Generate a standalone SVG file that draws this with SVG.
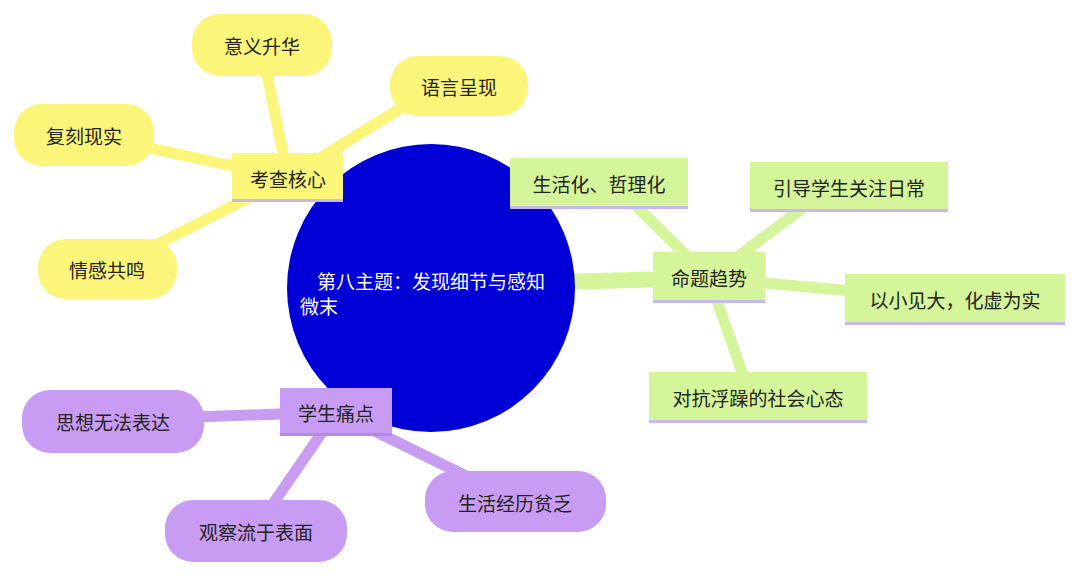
<svg xmlns="http://www.w3.org/2000/svg" width="1080" height="577" viewBox="0 0 1080 577">
<style>
text{font-family:"Noto Sans CJK SC","Noto Sans",sans-serif;font-size:19px;fill:#222;dominant-baseline:central;text-anchor:middle}
.y{fill:#fbf67a}.g{fill:#d4f59a}.p{fill:#c89cf2}
.cy{stroke:#fbf67a;fill:none;stroke-linecap:round}
.cg{stroke:#d4f59a;fill:none;stroke-linecap:round}
.cp{stroke:#c89cf2;fill:none;stroke-linecap:round}
.ul{fill:#c9b8f0}
</style>
<rect width="1080" height="577" fill="#fff"/>
<g id="connectors">
<path class="cy" d="M288 178 L430 260" stroke-width="16"/>
<path class="cy" d="M288 178 L262 50" stroke-width="11"/>
<path class="cy" d="M288 178 L430 90" stroke-width="11"/>
<path class="cy" d="M288 178 L90 135" stroke-width="11"/>
<path class="cy" d="M288 178 L110 268" stroke-width="11"/>
<path class="cg" d="M709 278 L520 283" stroke-width="16"/>
<path class="cg" d="M709 278 L620 190" stroke-width="11"/>
<path class="cg" d="M709 278 L820 195" stroke-width="11"/>
<path class="cg" d="M709 278 L950 300" stroke-width="11"/>
<path class="cg" d="M709 278 L750 395" stroke-width="11"/>
<path class="cp" d="M336 412 L430 330" stroke-width="16"/>
<path class="cp" d="M336 412 L110 420" stroke-width="11"/>
<path class="cp" d="M336 412 L515 500" stroke-width="11"/>
<path class="cp" d="M336 412 L255 530" stroke-width="11"/>
</g>
<g id="center"><circle cx="431" cy="288" r="144" fill="#0000d6"/>
<text x="431" y="280" style="fill:#fff">第八主题：发现细节与感知</text>
<text x="300" y="305" style="fill:#fff;text-anchor:start">微末</text></g>
<g id="n-kaocha"><rect class="y" x="232" y="153" width="111" height="49"/><rect class="ul" x="232" y="199" width="111" height="3"/><text x="288" y="178">考查核心</text></g>
<g id="n-yiyi"><rect class="y" x="192" y="14" width="140" height="62" rx="28"/><text x="262" y="45">意义升华</text></g>
<g id="n-yuyan"><rect class="y" x="390" y="56" width="138" height="60" rx="28"/><text x="459" y="86">语言呈现</text></g>
<g id="n-fuke"><rect class="y" x="14" y="104" width="140" height="62" rx="28"/><text x="84" y="135">复刻现实</text></g>
<g id="n-qinggan"><rect class="y" x="38" y="239" width="139" height="60" rx="28"/><text x="107" y="269">情感共鸣</text></g>
<g id="n-mingti"><rect class="g" x="653" y="252" width="112" height="51"/><rect class="ul" x="653" y="300" width="112" height="3"/><text x="709" y="277">命题趋势</text></g>
<g id="n-shenghuo"><rect class="g" x="510" y="158" width="178" height="51"/><rect class="ul" x="510" y="206" width="178" height="3"/><text x="599" y="183">生活化、哲理化</text></g>
<g id="n-yindao"><rect class="g" x="750" y="162" width="198" height="50"/><rect class="ul" x="750" y="209" width="198" height="3"/><text x="849" y="187">引导学生关注日常</text></g>
<g id="n-yixiao"><rect class="g" x="845" y="274" width="220" height="51"/><rect class="ul" x="845" y="322" width="220" height="3"/><text x="955" y="299">以小见大，化虚为实</text></g>
<g id="n-duikang"><rect class="g" x="649" y="372" width="218" height="51"/><rect class="ul" x="649" y="420" width="218" height="3"/><text x="758" y="397">对抗浮躁的社会心态</text></g>
<g id="n-xuesheng"><rect class="p" x="280" y="388" width="112" height="48"/><rect class="ul" x="280" y="433" width="112" height="3" style="fill:#b48ae8"/><text x="336" y="412">学生痛点</text></g>
<g id="n-sixiang"><rect class="p" x="22" y="390" width="182" height="63" rx="28"/><text x="113" y="421">思想无法表达</text></g>
<g id="n-jingli"><rect class="p" x="425" y="471" width="181" height="61" rx="28"/><text x="515" y="502">生活经历贫乏</text></g>
<g id="n-guancha"><rect class="p" x="165" y="500" width="182" height="62" rx="28"/><text x="256" y="531">观察流于表面</text></g>
</svg>
